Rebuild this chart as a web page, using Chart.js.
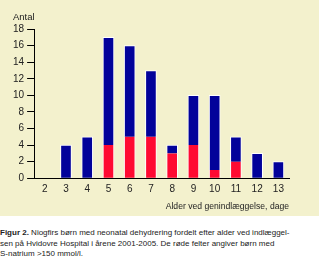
<!DOCTYPE html>
<html>
<head>
<meta charset="utf-8">
<script src="https://cdn.jsdelivr.net/npm/chart.js@4/dist/chart.umd.min.js"></script>
<style>
  html, body { margin: 0; padding: 0; background: #ffffff; }
  body { width: 319px; height: 258px; overflow: hidden; position: relative; font-family: "Liberation Sans", Arial, sans-serif; }
  #wrap { position: absolute; left: 0; top: 0; width: 319px; height: 216px; background: #f3f1cd; }
  #ylab { position: absolute; left: 13px; top: 11px; font-size: 9.5px; color: #222; line-height: 12px; }
  #cap { position: absolute; left: 0px; top: 228px; font-size: 8px; line-height: 10.5px; color: #222; white-space: nowrap; }
  #cap b { font-weight: bold; }
</style>
</head>
<body>
<div id="wrap"><canvas id="c" width="319" height="216"></canvas></div>
<div id="ylab">Antal</div>
<div id="cap"><b>Figur 2.</b> Niogfirs børn med neonatal dehydrering fordelt efter alder ved indlæggel-<br>sen på Hvidovre Hospital i årene 2001-2005. De røde felter angiver børn med<br>S-natrium &gt;150 mmol/l.</div>
<script>
const categories = ["2", "3", "4", "5", "6", "7", "8", "9", "10", "11", "12", "13"];
const totalValues = [0, 4, 5, 17, 16, 13, 4, 10, 10, 5, 3, 2];
const redValues   = [0, 0, 0, 4, 5, 5, 3, 4, 1, 2, 0, 0];
const blueValues  = [0, 4, 5, 13, 11, 8, 1, 6, 9, 3, 3, 2];
const yTicks = [0, 2, 4, 6, 8, 10, 12, 14, 16, 18];
const xTitle = "Alder ved genindlæggelse, dage";

const tickFont = { family: "'Liberation Sans', Arial, sans-serif", size: 10 };

new Chart(document.getElementById('c'), {
  type: 'bar',
  data: {
    labels: categories,
    datasets: [
      {
        label: 'S-natrium >150 mmol/l',
        data: redValues,
        backgroundColor: '#ff0a32',
        borderColor: '#ffffff',
        borderWidth: { left: 1, right: 1, top: 0, bottom: 0 },
        borderSkipped: false,
        barThickness: 11,
        stack: 's'
      },
      {
        label: 'Øvrige',
        data: blueValues,
        backgroundColor: '#02029a',
        borderColor: '#ffffff',
        borderWidth: { left: 1, right: 1, top: 1, bottom: 0 },
        borderSkipped: false,
        barThickness: 11,
        stack: 's'
      }
    ]
  },
  options: {
    responsive: false,
    animation: false,
    layout: { padding: { left: 10, right: 30, top: 29, bottom: 2 } },
    plugins: { legend: { display: false }, tooltip: { enabled: false }, title: { display: false } },
    scales: {
      x: {
        stacked: true,
        offset: true,
        grid: { display: true, drawOnChartArea: false, drawTicks: false },
        border: { display: true, color: '#000', width: 1 },
        ticks: { color: '#222', font: tickFont, padding: 5, maxRotation: 0, autoSkip: false },
        title: { display: true, text: xTitle, align: 'end', color: '#222',
                 font: { family: "'Liberation Sans', Arial, sans-serif", size: 8.6 }, padding: { top: 1.4, bottom: 2 } }
      },
      y: {
        stacked: true,
        min: 0,
        max: 18,
        afterBuildTicks: (axis) => { axis.ticks = yTicks.map(v => ({ value: v })); },
        grid: { display: true, drawOnChartArea: false, drawTicks: true, tickLength: 7, color: '#000', lineWidth: 1 },
        border: { display: true, color: '#000', width: 1 },
        ticks: { color: '#222', font: tickFont, padding: 3 }
      }
    }
  }
});
</script>
</body>
</html>
